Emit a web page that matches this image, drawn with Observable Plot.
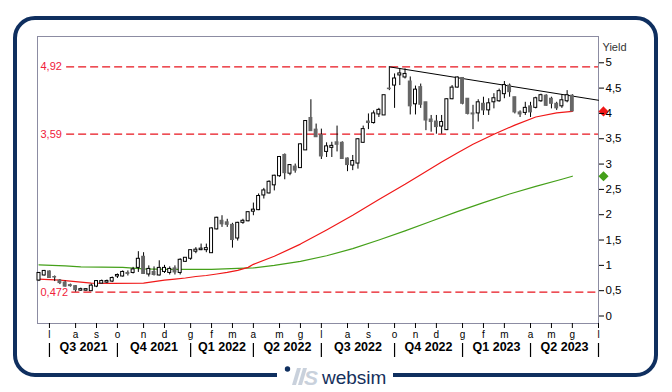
<!DOCTYPE html>
<html><head><meta charset="utf-8">
<script src="https://cdn.jsdelivr.net/npm/d3@7"></script>
<script src="https://cdn.jsdelivr.net/npm/@observablehq/plot@0.6"></script>
<style>
html,body{margin:0;padding:0;background:#fff;}
#wrap{position:relative;width:672px;height:392px;overflow:hidden;background:#fff;font-family:"Liberation Sans",Arial,sans-serif;}
#border{position:absolute;left:13px;top:16px;width:637px;height:353px;border:4.5px solid #0f2f5f;border-radius:22px;}
#chart{position:absolute;left:0;top:0;}
#logo{position:absolute;left:277px;top:360px;width:116px;height:30px;background:#fff;}
</style></head>
<body>
<div id="wrap">
  <div id="border"></div>
  <div id="chart"></div>
  <div id="logo">
    <svg width="116" height="30" viewBox="0 0 116 30">
      <circle cx="10.5" cy="9" r="2.7" fill="#0f2f5f"/>
      <polygon points="15,25 19,25 24,8 20,8" fill="#c9d1dc"/>
      <polygon points="21,25 25,25 30,8 26,8" fill="#c9d1dc"/>
      <text x="27" y="25" font-family="Liberation Sans, Arial, sans-serif" font-size="21" font-style="italic" font-weight="bold" fill="#c9d1dc">S</text>
      <text x="45" y="24" font-family="Liberation Sans, Arial, sans-serif" font-size="19" fill="#15305c">websim</text>
    </svg>
  </div>
</div>
<script>
// weekly candles, first candle week of 2021-06-18
const firstWeek = "2021-06-18";
const open  = [0.71,0.81,0.88,0.77,0.70,0.66,0.61,0.59,0.51,0.51,0.50,0.59,0.65,0.67,0.69,0.79,0.79,0.85,0.86,0.96,
               1.17,0.83,0.87,0.81,0.88,0.86,0.94,0.86,1.08,1.14,1.28,1.31,1.31,1.25,1.72,1.88,1.85,1.80,1.54,1.85,
               1.88,2.07,2.10,2.39,2.43,2.59,2.77,3.18,2.82,2.95,2.93,3.28,3.91,3.68,3.57,3.25,3.33,3.43,3.42,3.11,
               2.98,3.02,3.43,3.84,3.82,3.99,3.97,4.49,4.56,4.76,4.72,4.63,4.19,4.52,4.22,3.88,3.84,3.75,3.68,4.29,
               4.52,4.70,4.29,4.00,4.01,4.19,4.07,4.23,4.25,4.39,4.55,4.32,4.02,4.02,4.14,4.12,4.25,4.35,4.29,4.19,
               4.15,4.25,4.35];
const high  = [0.86,0.90,0.89,0.79,0.72,0.69,0.63,0.60,0.55,0.54,0.63,0.70,0.71,0.71,0.77,0.83,0.89,0.89,0.96,1.27,
               1.25,0.99,0.97,1.09,1.00,0.97,0.99,1.13,1.15,1.30,1.35,1.42,1.42,1.74,1.95,1.98,1.91,1.83,1.85,1.91,
               2.06,2.23,2.41,2.52,2.67,2.78,3.15,3.20,2.99,3.00,3.40,3.86,4.27,3.79,3.69,3.42,3.43,3.75,3.44,3.12,
               3.17,3.50,3.75,3.99,4.05,4.10,4.35,4.92,4.78,4.88,4.88,4.72,4.54,4.58,4.22,3.96,3.96,3.96,4.29,4.55,
               4.72,4.70,4.29,4.16,4.27,4.32,4.29,4.39,4.48,4.63,4.58,4.32,4.05,4.22,4.22,4.32,4.38,4.37,4.32,4.22,
               4.37,4.45,4.37];
const low   = [0.68,0.79,0.74,0.68,0.62,0.57,0.57,0.472,0.49,0.49,0.50,0.56,0.64,0.64,0.66,0.74,0.77,0.79,0.83,0.86,
               0.82,0.77,0.79,0.79,0.84,0.81,0.81,0.81,1.06,1.10,1.23,1.29,1.25,1.25,1.70,1.75,1.75,1.34,1.48,1.81,
               1.86,1.98,2.08,2.31,2.41,2.47,2.74,2.69,2.77,2.82,2.93,3.28,3.65,3.53,3.09,3.13,3.13,3.24,3.10,2.85,
               2.87,2.90,3.41,3.68,3.79,3.92,3.97,4.45,4.10,4.55,4.68,3.97,3.97,4.10,3.66,3.63,3.59,3.59,3.66,4.27,
               4.50,4.17,3.97,3.68,3.83,3.96,3.96,4.09,4.22,4.29,4.32,3.99,3.92,3.96,3.92,4.09,4.22,4.14,4.09,4.06,
               4.10,4.21,4.04];
const close = [0.84,0.88,0.75,0.76,0.65,0.58,0.59,0.51,0.52,0.52,0.59,0.68,0.68,0.68,0.74,0.80,0.86,0.83,0.91,1.12,
               0.83,0.92,0.81,0.94,0.94,0.92,0.86,1.10,1.14,1.29,1.30,1.32,1.33,1.72,1.93,1.81,1.80,1.50,1.83,1.87,
               2.04,2.09,2.36,2.47,2.64,2.76,3.13,2.82,2.97,2.87,3.38,3.84,3.65,3.53,3.15,3.34,3.35,3.38,3.10,2.98,
               3.05,3.48,3.68,3.81,3.99,4.06,4.35,4.48,4.68,4.78,4.77,4.14,4.46,4.17,3.86,3.83,3.73,3.82,4.27,4.50,
               4.70,4.19,3.99,3.98,4.21,4.06,4.19,4.29,4.43,4.55,4.42,4.02,3.98,4.10,4.02,4.29,4.35,4.15,4.19,4.10,
               4.25,4.35,4.04];

// moving averages read at selected weeks
const redWeek   = [0,4,7,10,14,20,22,24,26,28,30,32,34,36,38,40,41,45,50,55,60,65,70,73,77,80,83,87,91,95,99,102];
const redValue  = [0.73,0.71,0.68,0.65,0.645,0.65,0.68,0.71,0.73,0.75,0.78,0.80,0.83,0.86,0.90,0.96,1.02,1.18,1.42,1.70,1.99,2.30,2.60,2.79,3.04,3.22,3.39,3.59,3.77,3.93,4.01,4.04];
const greenWeek  = [0,5,8,16,20,25,33,38,41,45,50,55,60,65,70,75,80,85,90,95,100,102];
const greenValue = [1.01,0.99,0.97,0.96,0.93,0.92,0.92,0.94,0.95,1.00,1.08,1.19,1.33,1.50,1.68,1.87,2.06,2.24,2.41,2.56,2.70,2.76];

// resistance trendline
const trendDates  = ["2022-09-30","2023-07-07"];
const trendValues = [4.92, 4.26];

// horizontal levels
const levelValues = [4.92, 3.59, 0.472];
const levelLabels = ["4,92", "3,59", "0,472"];
const levelFrom   = ["2021-07-25", "2021-07-25", "2021-08-01"];

const monthLetters  = ["g","f","m","a","m","g","l","a","s","o","n","d"];
const quarterLabels = ["Q3 2021","Q4 2021","Q1 2022","Q2 2022","Q3 2022","Q4 2022","Q1 2023","Q2 2023"];
const yTicks = [0,0.5,1,1.5,2,2.5,3,3.5,4,4.5,5];
const xDomain = ["2021-06-16","2023-07-07"];
const weeksShown = 108;

const day = 864e5;
const t0 = new Date(firstWeek + "T00:00:00Z");
const weekDate = i => new Date(+t0 + i * 7 * day);
const xStart = new Date(xDomain[0] + "T00:00:00Z"), xEnd = new Date(xDomain[1] + "T00:00:00Z");

const candles = open.map((o, i) => ({date: weekDate(i), o, h: high[i], l: low[i], c: close[i]}));
const up = candles.filter(d => d.c >= d.o), down = candles.filter(d => d.c < d.o);

// first weekly candle of each month -> month ticks
const allWeeks = Array.from({length: weeksShown}, (_, i) => weekDate(i));
const monthTicks = allWeeks.filter((d, i) => i > 0 && d.getUTCMonth() !== allWeeks[i - 1].getUTCMonth());
const quarterStarts = monthTicks.filter(d => d.getUTCMonth() % 3 === 0);
const quarterMid = quarterLabels.map((label, i) => ({label, date: new Date((+quarterStarts[i] + +quarterStarts[i + 1]) / 2)}));

const redPts = redWeek.map((w, i) => ({date: weekDate(w), v: redValue[i]}));
const greenPts = greenWeek.map((w, i) => ({date: weekDate(w), v: greenValue[i]}));
const trend = trendDates.map((d, i) => ({date: new Date(d + "T00:00:00Z"), v: trendValues[i]}));
const levels = levelValues.map((v, i) => ({v, label: levelLabels[i], from: new Date(levelFrom[i] + "T00:00:00Z"), to: xEnd}));
const lastMA = [{v: redValue[redValue.length - 1], col: "#f01818"}, {v: greenValue[greenValue.length - 1], col: "#45a01a"}];

const chart = Plot.plot({
  width: 672, height: 392,
  marginLeft: 37, marginRight: 74, marginTop: 36, marginBottom: 69,
  style: {background: "transparent", fontFamily: "Liberation Sans, Arial, sans-serif", fontSize: "11px", color: "#000", overflow: "visible"},
  x: {type: "utc", domain: [xStart, xEnd]},
  y: {domain: [-0.148, 5.519]},
  marks: [
    Plot.frame({stroke: "#8c8ca2"}),
    Plot.ruleY(levels, {y: "v", x1: "from", x2: "to", stroke: "#e8141e", strokeWidth: 1.3, strokeDasharray: "8,4"}),
    Plot.text(levels, {y: "v", text: "label", frameAnchor: "left", dx: 3, textAnchor: "start", fill: "#f0203a", fontSize: 11}),
    Plot.line(greenPts, {x: "date", y: "v", stroke: "#45a01a", strokeWidth: 1.2}),
    Plot.line(redPts, {x: "date", y: "v", stroke: "#f01818", strokeWidth: 1.2}),
    Plot.line(trend, {x: "date", y: "v", stroke: "#000", strokeWidth: 1}),
    Plot.ruleX(candles, {x: "date", y1: "l", y2: "h", stroke: "#000", strokeWidth: 1}),
    Plot.rect(down, {x1: d => new Date(+d.date - 2.6 * day), x2: d => new Date(+d.date + 2.6 * day), y1: "o", y2: "c", fill: "#666", insetTop: -0.5, insetBottom: -0.5}),
    Plot.rect(up, {x1: d => new Date(+d.date - 2.0 * day), x2: d => new Date(+d.date + 2.0 * day), y1: "o", y2: "c", fill: "#fff", stroke: "#000", strokeWidth: 1, insetTop: -0.5, insetBottom: -0.5}),
    Plot.dot(lastMA, {y: "v", frameAnchor: "right", dx: 5, symbol: "diamond2", r: 3.6, fill: "col", stroke: "col"}),
    Plot.axisY({ticks: yTicks, anchor: "right", tickSize: 5, tickPadding: 2, tickFormat: d => String(d).replace(".", ","), fontSize: 11.5, label: null}),
    Plot.text(["Yield"], {frameAnchor: "top-right", dx: 4, dy: 7, textAnchor: "start", fill: "#333", fontSize: 11}),
    Plot.axisX({ticks: monthTicks, anchor: "bottom", tickSize: 5, tickPadding: 2, tickFormat: d => monthLetters[d.getUTCMonth()], fontSize: 10, label: null}),
    Plot.axisX({ticks: quarterStarts, anchor: "bottom", tickSize: 14, tickFormat: () => "", dy: 20, label: null, strokeWidth: 1.2}),
    Plot.text(quarterMid, {x: "date", text: "label", frameAnchor: "bottom", dy: 27, fontWeight: "bold", fontSize: 12.5})
  ]
});
document.getElementById("chart").appendChild(chart);
</script>
</body></html>
